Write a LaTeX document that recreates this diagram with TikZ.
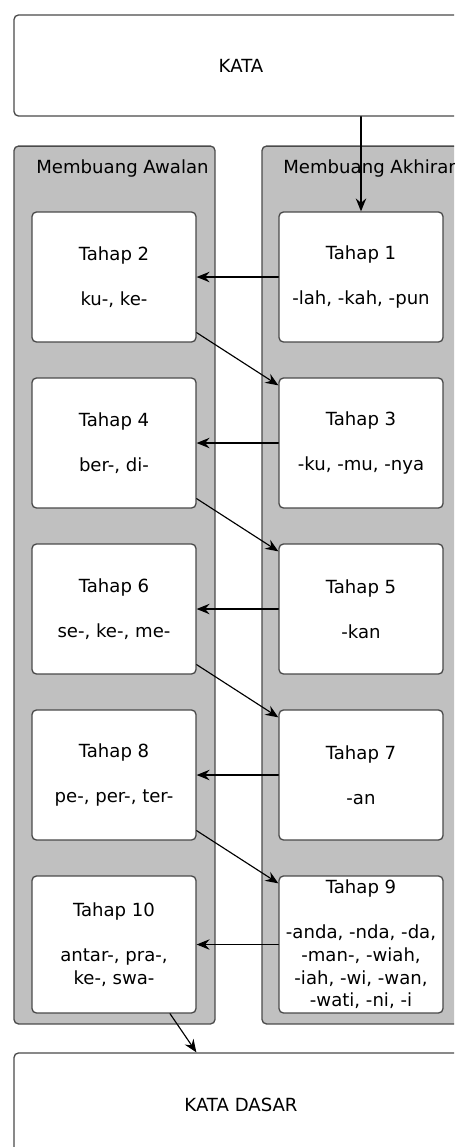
\documentclass[tikz,border=0pt]{standalone}
\usepackage{fontspec}
\setmainfont{DejaVu Sans}
\usetikzlibrary{arrows.meta}
\usetikzlibrary{calc}

\definecolor{abu}{HTML}{C0C0C0}
\definecolor{garis}{HTML}{4A4A4A}

\begin{document}
\begin{tikzpicture}[x=0.02cm, y=-0.02cm, line cap=round,
    font=\fontsize{10.3pt}{13pt}\selectfont,
    kotak/.style={draw=garis, fill=white, line width=0.75pt, rounded corners=2.5pt,
        minimum width=3.28cm, minimum height=2.6cm, align=center, inner sep=0pt},
    wadah/.style={draw=garis, fill=abu, line width=0.75pt, rounded corners=2.5pt,
        minimum width=4.02cm, minimum height=17.56cm, inner sep=0pt},
    ujung/.style={draw=garis, fill=white, line width=0.75pt, rounded corners=2.5pt,
        minimum width=9.08cm, inner sep=0pt},
    judul/.style={anchor=base west, inner sep=0pt},
    panah/.style={line width=0.65pt, -{Stealth[length=2.6mm, width=2.1mm, inset=0.9mm]}}]
    \clip (0,0) rectangle (454,1147);

    \node[ujung, minimum height=2.02cm] (kata) at (241, 65.5) {KATA};

    \node[wadah] (awalan) at (114.5, 585) {};
    \node[wadah] (akhiran) at (362.5, 585) {};
    \node[judul] (judulAwalan) at (36, 173) {Membuang Awalan};
    \node[judul] (judulAkhiran) at (283, 173) {Membuang Akhiran};

    \node[kotak] (t2) at (114, 277) {Tahap 2\\[12.5pt]ku-, ke-};
    \node[kotak] (t4) at (114, 443) {Tahap 4\\[12.5pt]ber-, di-};
    \node[kotak] (t6) at (114, 609) {Tahap 6\\[12.5pt]se-, ke-, me-};
    \node[kotak] (t8) at (114, 775) {Tahap 8\\[12.5pt]pe-, per-, ter-};
    \node[kotak, minimum height=2.74cm] (t10) at (114, 944.5)
        {Tahap 10\\[12.5pt]antar-, pra-,\\ke-, swa-};

    \node[kotak] (t1) at (361, 277) {Tahap 1\\[12.5pt]-lah, -kah, -pun};
    \node[kotak] (t3) at (361, 443) {Tahap 3\\[12.5pt]-ku, -mu, -nya};
    \node[kotak] (t5) at (361, 609) {Tahap 5\\[12.5pt]-kan};
    \node[kotak] (t7) at (361, 775) {Tahap 7\\[12.5pt]-an};
    \node[kotak, minimum height=2.74cm] (t9) at (361, 944.5)
        {Tahap 9\\[12.5pt]-anda, -nda, -da,\\-man-, -wiah,\\-iah, -wi, -wan,\\-wati, -ni, -i};

    \node[ujung, minimum height=2.08cm] (dasar) at (241, 1105) {KATA DASAR};

    \draw[panah] (t1.north |- kata.south) -- (t1.north);

    \draw[panah] (t1.west) -- (t2.east);
    \draw[panah] ($(t2.south east)+(0,-10)$) -- ($(t3.north west)+(0,8)$);
    \draw[panah] (t3.west) -- (t4.east);
    \draw[panah] ($(t4.south east)+(0,-10)$) -- ($(t5.north west)+(0,8)$);
    \draw[panah] (t5.west) -- (t6.east);
    \draw[panah] ($(t6.south east)+(0,-10)$) -- ($(t7.north west)+(0,8)$);
    \draw[panah] (t7.west) -- (t8.east);
    \draw[panah] ($(t8.south east)+(0,-10)$) -- ($(t9.north west)+(0,8)$);
    \draw[panah] (t9.west) -- (t10.east);

    \draw[panah] ($(t10.south)+(56,0)$) -- ($(dasar.north west)+(183,0)$);
\end{tikzpicture}
\end{document}
